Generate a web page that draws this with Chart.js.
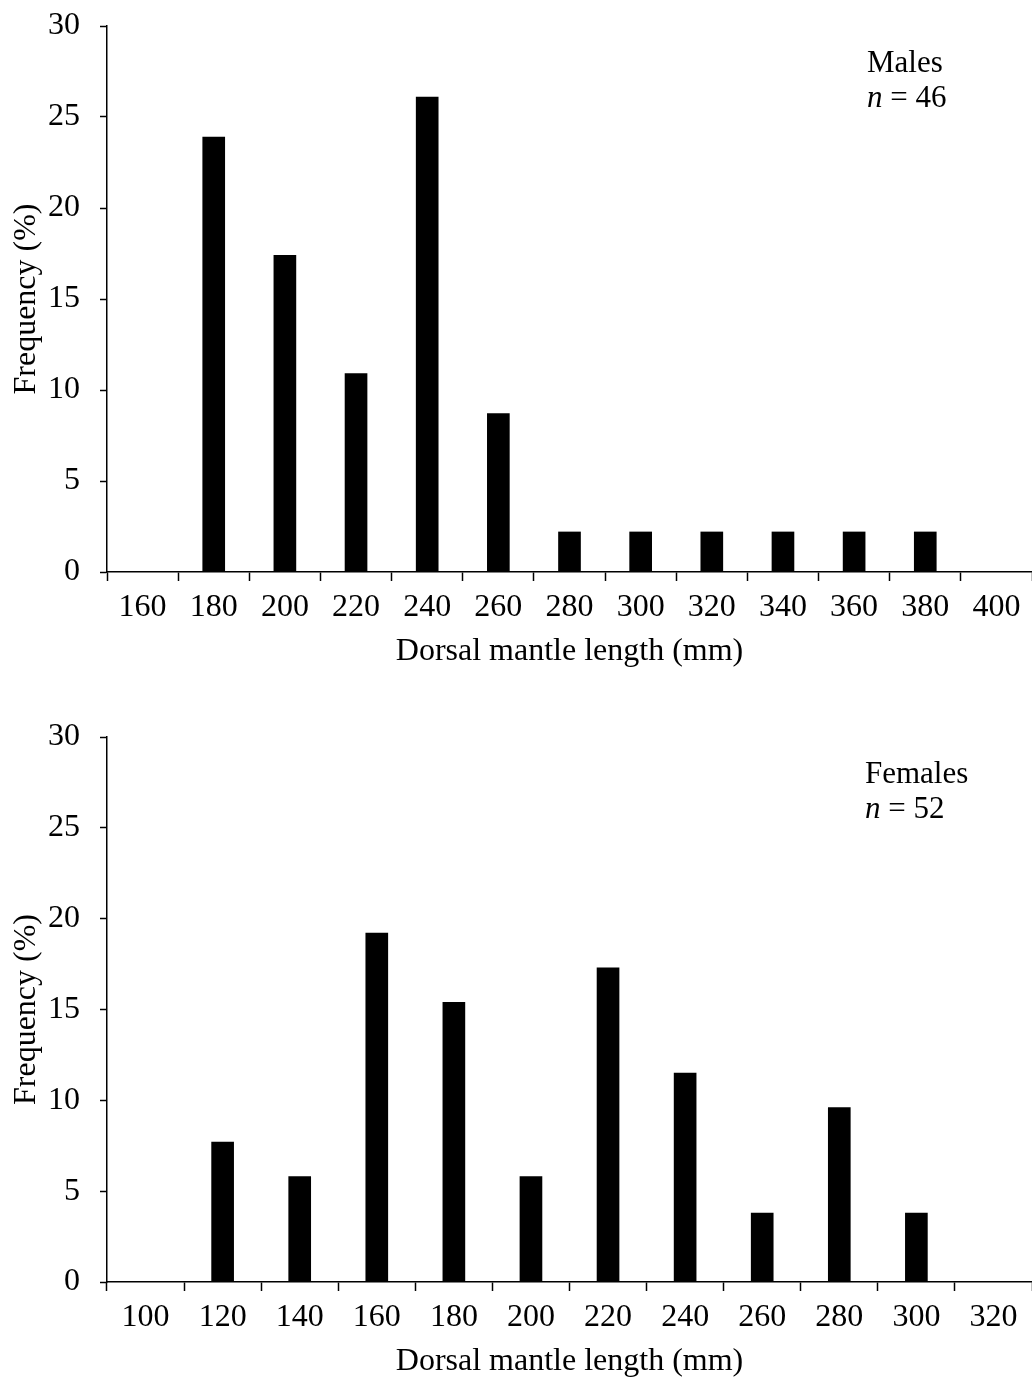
<!DOCTYPE html>
<html>
<head>
<meta charset="utf-8">
<script src="https://cdn.jsdelivr.net/npm/chart.js@4.4.0/dist/chart.umd.min.js"></script>
<style>
  html, body { margin: 0; padding: 0; background: #fff; overflow: hidden; }
  .panel { position: absolute; left: 0; width: 1032px; }
  #top { top: 0; height: 673px; }
  #bottom { top: 711px; height: 672px; }
</style>
</head>
<body>
<div class="panel" id="top"><canvas id="malesChart"></canvas></div>
<div class="panel" id="bottom"><canvas id="femalesChart"></canvas></div>
<script>
// Males: dorsal mantle length classes (mm) and frequency (%)
const maleLabels = ["160", "180", "200", "220", "240", "260", "280", "300", "320", "340", "360", "380", "400"];
const maleFreq = [0, 23.9, 17.4, 10.9, 26.1, 8.7, 2.2, 2.2, 2.2, 2.2, 2.2, 2.2, 0];

// Females
const femaleLabels = ["100", "120", "140", "160", "180", "200", "220", "240", "260", "280", "300", "320"];
const femaleFreq = [0, 7.7, 5.8, 19.2, 15.4, 5.8, 17.3, 11.5, 3.8, 9.6, 3.8, 0];

const yTicks = [0, 5, 10, 15, 20, 25, 30];

const FONT = "'Liberation Serif', 'Times New Roman', serif";
const FONT_SIZE = 32;

// Подпись в правом верхнем углу (пол + n)
function notePlugin(title, n, x) {
  return {
    id: "note",
    afterDraw(chart) {
      const ctx = chart.ctx;
      ctx.save();
      ctx.fillStyle = "#000";
      ctx.textBaseline = "alphabetic";
      ctx.textAlign = "left";
      ctx.font = `31px ${FONT}`;
      ctx.fillText(title, x, 72);
      ctx.font = `italic 31px ${FONT}`;
      ctx.fillText("n", x, 107);
      const w = ctx.measureText("n").width;
      ctx.font = `31px ${FONT}`;
      ctx.fillText(" = " + n, x + w, 107);
      ctx.restore();
    },
  };
}

function makeChart(el, labels, values, note) {
  return new Chart(el, {
    type: "bar",
    data: {
      labels: labels,
      datasets: [
        {
          data: values,
          backgroundColor: "#000",
          borderWidth: 0,
          barThickness: 22,
        },
      ],
    },
    options: {
      responsive: true,
      maintainAspectRatio: false,
      animation: false,
      layout: { padding: { top: 26, right: 0, bottom: 0, left: 0 } },
      plugins: { legend: { display: false }, tooltip: { enabled: false } },
      scales: {
        x: {
          offset: true,
          grid: {
            offset: true,
            drawOnChartArea: false,
            drawTicks: true,
            tickLength: 9,
            tickColor: "#000",
            tickWidth: 1.5,
          },
          border: { display: true, color: "#000", width: 1.5 },
          ticks: {
            color: "#000",
            font: { family: FONT, size: FONT_SIZE },
            padding: 7,
            maxRotation: 0,
            autoSkip: false,
          },
          title: {
            display: true,
            text: "Dorsal mantle length (mm)",
            color: "#000",
            font: { family: FONT, size: FONT_SIZE },
            padding: { top: 2, bottom: 2 },
          },
          afterFit(scale) {
            scale.height = 101;
            scale.paddingLeft = 0;
            scale.paddingRight = 0;
          },
        },
        y: {
          min: 0,
          max: 30,
          afterBuildTicks(scale) {
            scale.ticks = yTicks.map((v) => ({ value: v }));
          },
          grid: {
            drawOnChartArea: false,
            drawTicks: true,
            tickLength: 7,
            tickColor: "#000",
            tickWidth: 1.5,
          },
          border: { display: true, color: "#000", width: 1.5 },
          ticks: {
            color: "#000",
            font: { family: FONT, size: FONT_SIZE },
            padding: 20,
          },
          title: {
            display: true,
            text: "Frequency (%)",
            color: "#000",
            font: { family: FONT, size: FONT_SIZE },
            padding: { top: 7, bottom: 7 },
          },
          afterFit(scale) {
            scale.width = 107;
            // метки не должны сдвигать область графика
            scale.paddingTop = 0;
            scale.paddingBottom = 0;
          },
        },
      },
    },
    plugins: [note],
  });
}

makeChart(
  document.getElementById("malesChart"),
  maleLabels,
  maleFreq,
  notePlugin("Males", 46, 867)
);

makeChart(
  document.getElementById("femalesChart"),
  femaleLabels,
  femaleFreq,
  notePlugin("Females", 52, 865)
);
</script>
</body>
</html>
